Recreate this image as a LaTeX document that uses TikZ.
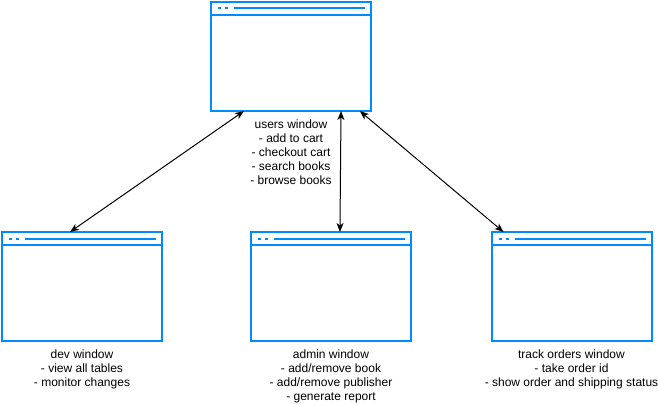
\documentclass[tikz,border=0pt]{standalone}
\usepackage{fontspec}
\setmainfont{Liberation Sans}
\usepackage{tikz}
\usetikzlibrary{arrows.meta,calc,positioning}
\definecolor{winblue}{HTML}{008CFF}

\tikzset{
  appwin/.style={draw=winblue,line width=2pt,minimum width=160pt,minimum height=109pt,inner sep=0pt,outer sep=0pt,fill=white},
  winline/.style={draw=winblue,line width=2pt},
  wintext/.style={align=center,inner sep=0pt,font=\fontsize{12}{14}\selectfont},
  link/.style={line width=1pt,{Stealth[length=9pt,width=7pt,inset=2.5pt]}-{Stealth[length=9pt,width=7pt,inset=2.5pt]}}
}

\begin{document}
\begin{tikzpicture}[x=1pt,y=-1pt]
\useasboundingbox (0,0) rectangle (658,404);

% windows
\node[appwin] (users) at (291,56.5) {};
\node[appwin] (dev) at (82,286.5) {};
\node[appwin] (admin) at (331,286.5) {};
\node[appwin] (track) at (571.5,286.5) {};

% title bars
\foreach \w in {users,dev,admin,track}{
  \draw[winline] ($(\w.north west)+(0,13)$) -- ($(\w.north east)+(0,13)$);
  \draw[winline] ($(\w.north west)+(7,6.5)$) -- ++(3,0) ($(\w.north west)+(14,6.5)$) -- ++(3,0)
    ($(\w.north west)+(23,6.5)$) -- ($(\w.north east)+(-6,6.5)$);
}

% labels
\node[wintext,below=9pt of users] (userstxt) {users window\\- add to cart\\- checkout cart\\- search books\\- browse books};
\node[wintext,below=9pt of dev] (devtxt) {dev window\\- view all tables\\- monitor changes};
\node[wintext,below=9pt of admin] (admintxt) {admin window\\- add/remove book\\- add/remove publisher\\- generate report};
\node[wintext,below=9pt of track] (tracktxt) {track orders window\\- take order id\\- show order and shipping status};

% connectors
\draw[link] ($(users.south west)!0.206!(users.south east)$) -- ($(dev.north west)!0.425!(dev.north east)$);
\draw[link] ($(users.south west)!0.8125!(users.south east)$) -- ($(admin.north west)!0.556!(admin.north east)$);
\draw[link] ($(users.south west)!0.93!(users.south east)$) -- ($(track.north west)!0.075!(track.north east)$);
\end{tikzpicture}
\end{document}
